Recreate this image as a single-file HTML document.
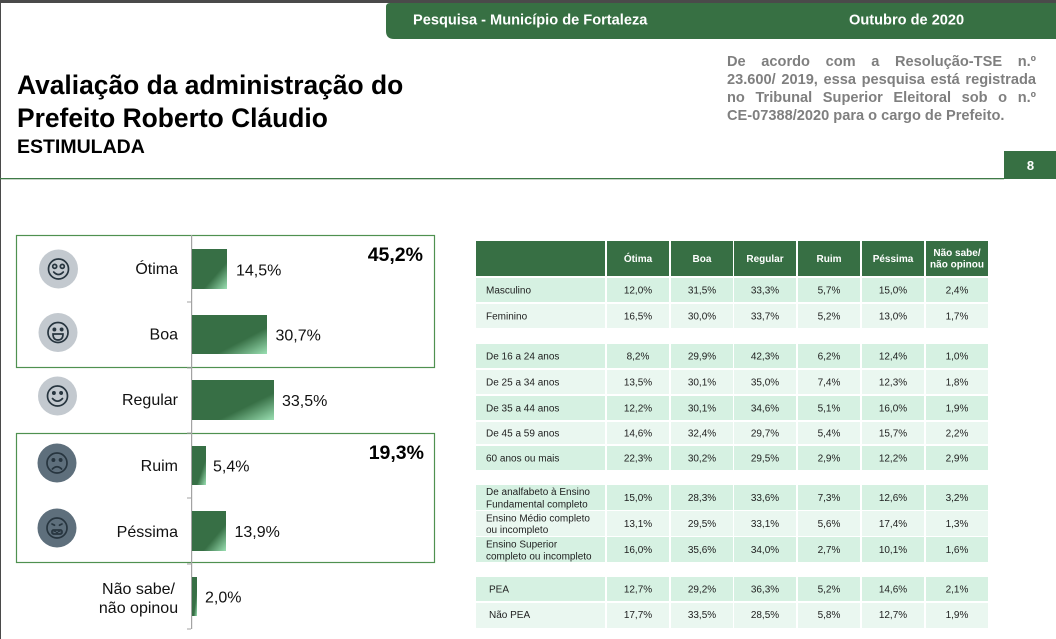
<!DOCTYPE html>
<html><head><meta charset="utf-8"><style>
html,body{margin:0;padding:0;background:#fff;}
body{width:1056px;height:639px;overflow:hidden;position:relative;}
svg{display:block;font-family:"Liberation Sans",Arial,sans-serif;}
.disc{position:absolute;left:727px;top:53px;width:309px;font-family:"Liberation Sans",Arial,sans-serif;font-size:14.6px;font-weight:bold;color:#7f7f7f;line-height:18px;}
.disc div{white-space:nowrap;}
.j{text-align:justify;text-align-last:justify;white-space:normal !important;}
</style></head><body>
<svg width="1056" height="639" viewBox="0 0 1056 639" xmlns="http://www.w3.org/2000/svg">
<defs>
<linearGradient id="bg" x1="0" y1="0" x2="1" y2="1">
<stop offset="0" stop-color="#376f45"/><stop offset="0.66" stop-color="#376f45"/><stop offset="1" stop-color="#9be0b3"/>
</linearGradient>
</defs>
<rect x="0" y="0" width="1056" height="639" fill="#fff"/>
<rect x="0" y="0" width="1056" height="3" fill="#4a4a4a"/>
<rect x="0" y="0" width="1" height="639" fill="#4a4a4a"/>
<!-- header bar -->
<path d="M390,3 H1056 V39 H394 Q386,39 386,31 V7 Q386,3 390,3 Z" fill="#377043"/>
<text x="413" y="24.5" font-size="14.6" font-weight="bold" fill="#fff">Pesquisa - Município de Fortaleza</text>
<text x="849" y="24.5" font-size="14.6" font-weight="bold" fill="#fff">Outubro de 2020</text>
<!-- title -->
<text x="17" y="94" font-size="26.4" font-weight="bold" fill="#000">Avaliação da administração do</text>
<text x="17" y="127" font-size="26.4" font-weight="bold" fill="#000">Prefeito Roberto Cláudio</text>
<text x="17" y="153" font-size="19.5" font-weight="bold" fill="#000">ESTIMULADA</text>
<!-- page number + line -->
<rect x="0" y="178" width="1004" height="1.3" fill="#3f7a47"/>
<rect x="1004" y="151" width="52" height="28" fill="#377043"/>
<text x="1030.5" y="170" font-size="13" font-weight="bold" fill="#fff" text-anchor="middle">8</text>

<!-- left chart boxes -->
<rect x="16.5" y="235.5" width="418" height="132" fill="none" stroke="#4f9150" stroke-width="1.2"/>
<rect x="16.5" y="433.5" width="418" height="129" fill="none" stroke="#4f9150" stroke-width="1.2"/>
<!-- axis -->
<rect x="191" y="235" width="1.2" height="394" fill="#a3a3a3"/>
<g fill="#a3a3a3">
<rect x="187" y="301.5" width="4" height="1"/>
<rect x="187" y="367.5" width="4" height="1"/>
<rect x="187" y="432.5" width="4" height="1"/>
<rect x="187" y="497.5" width="4" height="1"/>
<rect x="187" y="563.5" width="4" height="1"/>
<rect x="187" y="628.5" width="4" height="1"/>
</g>
<!-- bars -->
<rect x="192" y="249" width="35" height="40" fill="url(#bg)"/>
<rect x="192" y="315" width="75" height="39" fill="url(#bg)"/>
<rect x="192" y="380" width="82" height="40" fill="url(#bg)"/>
<rect x="192" y="446" width="14" height="39" fill="url(#bg)"/>
<rect x="192" y="511" width="34" height="40" fill="url(#bg)"/>
<rect x="192" y="577" width="5" height="39" fill="url(#bg)"/>
<!-- value labels -->
<g font-size="16" fill="#111">
<text x="236" y="275.5">14,5%</text>
<text x="275.5" y="340.5">30,7%</text>
<text x="282" y="406">33,5%</text>
<text x="213" y="471.5">5,4%</text>
<text x="234.5" y="537">13,9%</text>
<text x="205" y="602.5">2,0%</text>
</g>
<!-- category labels -->
<g font-size="16" fill="#111" text-anchor="end">
<text x="178" y="274">Ótima</text>
<text x="178" y="339.5">Boa</text>
<text x="178" y="405">Regular</text>
<text x="178" y="471">Ruim</text>
<text x="178" y="537">Péssima</text>
</g>
<g font-size="16" fill="#111" text-anchor="middle">
<text x="138.5" y="594">Não sabe/</text>
<text x="138.5" y="613">não opinou</text>
</g>
<g font-size="19.5" font-weight="bold" fill="#000" text-anchor="end">
<text x="423" y="261">45,2%</text>
<text x="424" y="459">19,3%</text>
</g>
<!-- icons -->
<g stroke="#27353f" stroke-width="1.7" fill="none" stroke-linecap="round">
<g transform="translate(58.5,269)">
<circle r="19.5" fill="#c3c9cf" stroke="none"/>
<circle r="10"/>
<circle cx="-3.8" cy="-2.6" r="2"/><circle cx="3.8" cy="-2.6" r="2"/>
<path d="M-4.8,3 Q0,8 4.8,3"/>
</g>
<g transform="translate(58,332.5)">
<circle r="19.5" fill="#c3c9cf" stroke="none"/>
<circle r="10"/>
<circle cx="-3.6" cy="-3" r="1.1" fill="#27353f"/><circle cx="3.6" cy="-3" r="1.1" fill="#27353f"/>
<path d="M-5,1.5 H5 Q5,7.5 0,7.5 Q-5,7.5 -5,1.5 Z"/>
</g>
<g transform="translate(57.5,396)">
<circle r="19.5" fill="#c3c9cf" stroke="none"/>
<circle r="10"/>
<circle cx="-3.6" cy="-3" r="1.1" fill="#27353f"/><circle cx="3.6" cy="-3" r="1.1" fill="#27353f"/>
<path d="M-5,2.5 Q0,7.8 5,2.5"/>
</g>
<g transform="translate(57,463)">
<circle r="19.5" fill="#5e6f7c" stroke="none"/>
<circle r="10"/>
<circle cx="-3.6" cy="-3" r="1.1" fill="#27353f"/><circle cx="3.6" cy="-3" r="1.1" fill="#27353f"/>
<path d="M-4.6,6 Q0,1.5 4.6,6"/>
</g>
<g transform="translate(57,528)">
<circle r="19.5" fill="#5e6f7c" stroke="none"/>
<circle r="10"/>
<path d="M-5,-4 L-2.5,-2.8 M5,-4 L2.5,-2.8"/>
<rect x="-5" y="2" width="10" height="4" rx="1.5"/>
<path d="M-3.5,4 L-2,3 L0,5 L2,3 L3.5,4" stroke-width="1"/>
</g>
</g>

<!-- table header -->
<g fill="#376f44">
<rect x="476" y="241" width="129" height="35"/>
<rect x="607" y="241" width="62" height="35"/>
<rect x="671" y="241" width="62" height="35"/>
<rect x="734" y="241" width="62" height="35"/>
<rect x="798" y="241" width="62" height="35"/>
<rect x="862" y="241" width="62" height="35"/>
<rect x="926" y="241" width="62" height="35"/>
</g>
<g font-size="10" font-weight="bold" fill="#fff" text-anchor="middle">
<text x="638" y="262">Ótima</text>
<text x="702" y="262">Boa</text>
<text x="765" y="262">Regular</text>
<text x="829" y="262">Ruim</text>
<text x="893" y="262">Péssima</text>
<text x="957" y="256">Não sabe/</text>
<text x="957" y="267.5">não opinou</text>
</g>

<!-- table rows -->
<g>
<g fill="#d6f1e2">
<rect x="476" y="278" width="129" height="24"/><rect x="607" y="278" width="62" height="24"/><rect x="671" y="278" width="62" height="24"/><rect x="734" y="278" width="62" height="24"/><rect x="798" y="278" width="62" height="24"/><rect x="862" y="278" width="62" height="24"/><rect x="926" y="278" width="62" height="24"/>
<rect x="476" y="344" width="129" height="24"/><rect x="607" y="344" width="62" height="24"/><rect x="671" y="344" width="62" height="24"/><rect x="734" y="344" width="62" height="24"/><rect x="798" y="344" width="62" height="24"/><rect x="862" y="344" width="62" height="24"/><rect x="926" y="344" width="62" height="24"/>
<rect x="476" y="396" width="129" height="24"/><rect x="607" y="396" width="62" height="24"/><rect x="671" y="396" width="62" height="24"/><rect x="734" y="396" width="62" height="24"/><rect x="798" y="396" width="62" height="24"/><rect x="862" y="396" width="62" height="24"/><rect x="926" y="396" width="62" height="24"/>
<rect x="476" y="446" width="129" height="24"/><rect x="607" y="446" width="62" height="24"/><rect x="671" y="446" width="62" height="24"/><rect x="734" y="446" width="62" height="24"/><rect x="798" y="446" width="62" height="24"/><rect x="862" y="446" width="62" height="24"/><rect x="926" y="446" width="62" height="24"/>
<rect x="476" y="485" width="129" height="25"/><rect x="607" y="485" width="62" height="25"/><rect x="671" y="485" width="62" height="25"/><rect x="734" y="485" width="62" height="25"/><rect x="798" y="485" width="62" height="25"/><rect x="862" y="485" width="62" height="25"/><rect x="926" y="485" width="62" height="25"/>
<rect x="476" y="537" width="129" height="25"/><rect x="607" y="537" width="62" height="25"/><rect x="671" y="537" width="62" height="25"/><rect x="734" y="537" width="62" height="25"/><rect x="798" y="537" width="62" height="25"/><rect x="862" y="537" width="62" height="25"/><rect x="926" y="537" width="62" height="25"/>
<rect x="476" y="577" width="129" height="24"/><rect x="607" y="577" width="62" height="24"/><rect x="671" y="577" width="62" height="24"/><rect x="734" y="577" width="62" height="24"/><rect x="798" y="577" width="62" height="24"/><rect x="862" y="577" width="62" height="24"/><rect x="926" y="577" width="62" height="24"/>
</g>
<g fill="#eaf7f0">
<rect x="476" y="304" width="129" height="24"/><rect x="607" y="304" width="62" height="24"/><rect x="671" y="304" width="62" height="24"/><rect x="734" y="304" width="62" height="24"/><rect x="798" y="304" width="62" height="24"/><rect x="862" y="304" width="62" height="24"/><rect x="926" y="304" width="62" height="24"/>
<rect x="476" y="370" width="129" height="24"/><rect x="607" y="370" width="62" height="24"/><rect x="671" y="370" width="62" height="24"/><rect x="734" y="370" width="62" height="24"/><rect x="798" y="370" width="62" height="24"/><rect x="862" y="370" width="62" height="24"/><rect x="926" y="370" width="62" height="24"/>
<rect x="476" y="422" width="129" height="22"/><rect x="607" y="422" width="62" height="22"/><rect x="671" y="422" width="62" height="22"/><rect x="734" y="422" width="62" height="22"/><rect x="798" y="422" width="62" height="22"/><rect x="862" y="422" width="62" height="22"/><rect x="926" y="422" width="62" height="22"/>
<rect x="476" y="511" width="129" height="25"/><rect x="607" y="511" width="62" height="25"/><rect x="671" y="511" width="62" height="25"/><rect x="734" y="511" width="62" height="25"/><rect x="798" y="511" width="62" height="25"/><rect x="862" y="511" width="62" height="25"/><rect x="926" y="511" width="62" height="25"/>
<rect x="476" y="603" width="129" height="25"/><rect x="607" y="603" width="62" height="25"/><rect x="671" y="603" width="62" height="25"/><rect x="734" y="603" width="62" height="25"/><rect x="798" y="603" width="62" height="25"/><rect x="862" y="603" width="62" height="25"/><rect x="926" y="603" width="62" height="25"/>
</g>
</g>

<!-- row labels -->
<g font-size="10" fill="#1e1e1e">
<text x="486" y="293.5">Masculino</text>
<text x="486" y="319.5">Feminino</text>
<text x="486" y="359.5">De 16 a 24 anos</text>
<text x="486" y="385.5">De 25 a 34 anos</text>
<text x="486" y="411.5">De 35 a 44 anos</text>
<text x="486" y="436.5">De 45 a 59 anos</text>
<text x="486" y="461.5">60 anos ou mais</text>
<text x="486" y="495">De analfabeto à Ensino</text>
<text x="486" y="507.5">Fundamental completo</text>
<text x="486" y="521.5">Ensino Médio completo</text>
<text x="486" y="533">ou incompleto</text>
<text x="486" y="547.5">Ensino Superior</text>
<text x="486" y="559.5">completo ou incompleto</text>
<text x="489" y="592.5">PEA</text>
<text x="489" y="618">Não PEA</text>
</g>

<!-- values -->
<g font-size="10" fill="#1e1e1e" text-anchor="middle">
<g transform="translate(0,293.5)"><text x="638">12,0%</text><text x="702">31,5%</text><text x="765">33,3%</text><text x="829">5,7%</text><text x="893">15,0%</text><text x="957">2,4%</text></g>
<g transform="translate(0,319.5)"><text x="638">16,5%</text><text x="702">30,0%</text><text x="765">33,7%</text><text x="829">5,2%</text><text x="893">13,0%</text><text x="957">1,7%</text></g>
<g transform="translate(0,359.5)"><text x="638">8,2%</text><text x="702">29,9%</text><text x="765">42,3%</text><text x="829">6,2%</text><text x="893">12,4%</text><text x="957">1,0%</text></g>
<g transform="translate(0,385.5)"><text x="638">13,5%</text><text x="702">30,1%</text><text x="765">35,0%</text><text x="829">7,4%</text><text x="893">12,3%</text><text x="957">1,8%</text></g>
<g transform="translate(0,411.5)"><text x="638">12,2%</text><text x="702">30,1%</text><text x="765">34,6%</text><text x="829">5,1%</text><text x="893">16,0%</text><text x="957">1,9%</text></g>
<g transform="translate(0,436.5)"><text x="638">14,6%</text><text x="702">32,4%</text><text x="765">29,7%</text><text x="829">5,4%</text><text x="893">15,7%</text><text x="957">2,2%</text></g>
<g transform="translate(0,461.5)"><text x="638">22,3%</text><text x="702">30,2%</text><text x="765">29,5%</text><text x="829">2,9%</text><text x="893">12,2%</text><text x="957">2,9%</text></g>
<g transform="translate(0,501)"><text x="638">15,0%</text><text x="702">28,3%</text><text x="765">33,6%</text><text x="829">7,3%</text><text x="893">12,6%</text><text x="957">3,2%</text></g>
<g transform="translate(0,527)"><text x="638">13,1%</text><text x="702">29,5%</text><text x="765">33,1%</text><text x="829">5,6%</text><text x="893">17,4%</text><text x="957">1,3%</text></g>
<g transform="translate(0,553)"><text x="638">16,0%</text><text x="702">35,6%</text><text x="765">34,0%</text><text x="829">2,7%</text><text x="893">10,1%</text><text x="957">1,6%</text></g>
<g transform="translate(0,592.5)"><text x="638">12,7%</text><text x="702">29,2%</text><text x="765">36,3%</text><text x="829">5,2%</text><text x="893">14,6%</text><text x="957">2,1%</text></g>
<g transform="translate(0,618)"><text x="638">17,7%</text><text x="702">33,5%</text><text x="765">28,5%</text><text x="829">5,8%</text><text x="893">12,7%</text><text x="957">1,9%</text></g>
</g>
</svg>
<div class="disc">
<div class="j">De acordo com a Resolução-TSE n.º</div>
<div class="j">23.600/ 2019, essa pesquisa está registrada</div>
<div class="j">no Tribunal Superior Eleitoral sob o n.º</div>
<div>CE-07388/2020 para o cargo de Prefeito.</div>
</div>
</body></html>
